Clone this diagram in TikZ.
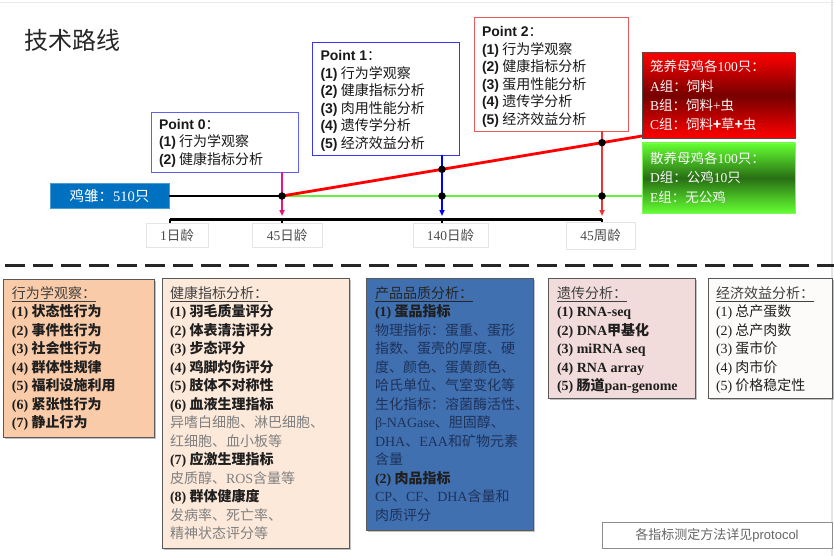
\documentclass[tikz,border=0pt]{standalone}
\usepackage{fontspec}
\setmainfont{Noto Sans CJK SC}
\newfontfamily\tms{Liberation Serif}
\newfontfamily\ars{Liberation Sans}
\usetikzlibrary{shadows,arrows.meta}
\newcommand\T[1]{{\tms #1}}
\newcommand\A[1]{{\ars #1}}
\newcommand\fsa{\rule{0pt}{14pt}}
\newcommand\fsb{\rule{0pt}{13.5pt}}
\definecolor{pzero}{RGB}{95,95,240}
\definecolor{pone}{RGB}{55,55,240}
\definecolor{ptwo}{RGB}{235,90,90}
\definecolor{azero}{RGB}{240,20,120}
\definecolor{aone}{RGB}{0,0,255}
\definecolor{atwo}{RGB}{240,50,50}
\definecolor{rline}{RGB}{255,0,0}
\definecolor{gline}{RGB}{100,240,60}
\definecolor{chick}{RGB}{0,112,192}
\definecolor{bone}{RGB}{250,203,168}
\definecolor{btwo}{RGB}{253,233,218}
\definecolor{bthree}{RGB}{64,112,176}
\definecolor{bfour}{RGB}{242,220,219}
\definecolor{bfive}{RGB}{253,251,249}
\definecolor{descb}{RGB}{30,50,90}
\definecolor{descg}{RGB}{128,128,128}
\definecolor{rtop}{RGB}{255,0,0}
\definecolor{rmid}{RGB}{118,0,0}
\definecolor{gtop}{RGB}{100,255,50}
\definecolor{gmid}{RGB}{40,110,20}
\begin{document}
\begin{tikzpicture}[x=1pt,y=-1pt,
  every node/.style={inner sep=0pt, outer sep=0pt},
  pbox/.style={draw, line width=0.9pt, fill=white, anchor=north west},
  ptext/.style={anchor=north west, align=left, font=\fontsize{14}{17.5}\selectfont, text=black!90},
  gtext/.style={anchor=north west, align=left, font=\fontsize{13.5}{19.3}\selectfont, text=white!95!gray},
  btext/.style={anchor=north west, align=left, font=\fontsize{14}{18.5}\selectfont, text=black!88},
  bbox/.style={draw=black!65, line width=0.9pt, anchor=north west,
    drop shadow={shadow xshift=1.5pt, shadow yshift=-1.5pt, opacity=0.35, fill=black!70}},
  lbl/.style={draw=black!10, fill=white, text=black!70, font=\fontsize{13.5}{15}\selectfont, minimum height=24},
  dot/.style={circle, fill=black, minimum size=7.5},
  arr/.style={line width=1.6pt, -{Triangle[length=6pt,width=5pt]}}
]
\useasboundingbox (0,0) rectangle (834,556);
% faint slide frame
\draw[black!8, line width=1pt] (0,3) -- (834,3);
\draw[black!10, line width=2pt] (832,0) -- (832,556);

% title
\node[anchor=west, font=\fontsize{24}{28}\selectfont, text=black!85] (title) at (24,40) {技术路线};

% Point boxes
\node[pbox, draw=pzero, minimum width=147, minimum height=60] (p0) at (151,112) {};
\node[ptext] (p0t) at (159,115.3) {\fsa\A{\textbf{Point 0}}：\\\A{\textbf{(1)}} 行为学观察\\\A{\textbf{(2)}} 健康指标分析};
\node[pbox, draw=pone, minimum width=147, minimum height=113] (p1) at (312,42) {};
\node[ptext] (p1t) at (320.5,47) {\fsa\A{\textbf{Point 1}}：\\\A{\textbf{(1)}} 行为学观察\\\A{\textbf{(2)}} 健康指标分析\\\A{\textbf{(3)}} 肉用性能分析\\\A{\textbf{(4)}} 遗传学分析\\\A{\textbf{(5)}} 经济效益分析};
\node[pbox, draw=ptwo, minimum width=154, minimum height=114] (p2) at (474,17) {};
\node[ptext] (p2t) at (482,23) {\fsa\A{\textbf{Point 2}}：\\\A{\textbf{(1)}} 行为学观察\\\A{\textbf{(2)}} 健康指标分析\\\A{\textbf{(3)}} 蛋用性能分析\\\A{\textbf{(4)}} 遗传学分析\\\A{\textbf{(5)}} 经济效益分析};

% cage and free-range boxes
\node[anchor=north west, draw=black!70, line width=0.8pt, minimum width=153, minimum height=85,
  top color=rtop, bottom color=rtop, middle color=rmid] (cage) at (642,53) {};
\node[gtext] (caget) at (650,58.3) {\fsb 笼养母鸡各\T{100}只：\\\T{A}组：饲料\\\T{B}组：饲料\T{+}虫\\\T{C}组：饲料\textbf{+}草\textbf{+}虫};
\node[anchor=north west, draw=gline!80!white, line width=0.6pt, minimum width=153, minimum height=70,
  top color=gtop, bottom color=gtop, middle color=gmid] (free) at (642,143) {};
\node[gtext] (freet) at (650,149.9) {\fsb 散养母鸡各\T{100}只：\\\T{D}组：公鸡\T{10}只\\\T{E}组：无公鸡};

% chicks
\node[fill=chick, draw=chick!70!white, line width=0.6pt, minimum width=119, minimum height=25,
  text=white, font=\fontsize{14.5}{16}\selectfont] (chk) at (109.5,196) {鸡雏：\T{510}只};

% coordinates
\coordinate (split) at (282,196);
\coordinate (redend) at (642,136);
\coordinate (greenend) at (642,196);
\coordinate (r1) at (442,169.33);
\coordinate (r2) at (602,142.67);
\coordinate (g1) at (442,196);
\coordinate (g2) at (602,196);
\coordinate (ts) at (170,219);
\coordinate (te) at (602,219);
\coordinate (t0) at (282,216);
\coordinate (t1) at (442,216);
\coordinate (t2) at (602,216);

% lines
\draw[line width=2.2pt, black] (chk.east) -- (split);
\draw[line width=2.8pt, gline] (split) -- (greenend);
\draw[line width=2.8pt, rline] (split) -- (redend);

% timeline
\draw[line width=3pt, black] (ts) -- (te);
\foreach \xx in {170,282,442,602} \draw[line width=1.5pt] (\xx,219) -- (\xx,223.5);

% arrows
\draw[arr, azero] (t0 |- p0.south) -- (t0);
\draw[arr, aone] (t1 |- p1.south) -- (t1);
\draw[arr, atwo] (t2 |- p2.south) -- (t2);

% dots
\node[dot] (d0) at (split) {};
\node[dot] (d1) at (r1) {};
\node[dot] (d2) at (g1) {};
\node[dot] (d3) at (r2) {};
\node[dot] (d4) at (g2) {};

% time labels
\node[lbl, minimum width=62] (l1) at (177,235) {\T{1}日龄};
\node[lbl, minimum width=70] (l2) at (287,235) {\T{45}日龄};
\node[lbl, minimum width=75] (l3) at (450.5,235) {\T{140}日龄};
\node[lbl, minimum width=69, minimum height=27] (l4) at (600.5,235.5) {\T{45}周龄};

% dashed separator
\draw[line width=3pt, black!85, dash pattern=on 20pt off 8pt] (5,265) -- (834,265);

% bottom boxes
\node[bbox, fill=bone, minimum width=151, minimum height=158] (b1) at (3,279) {};
\node[btext] (b1t) at (12,284.3) {\fsa{\color{black!75}\underline{行为学观察：}}\\
\textbf{\T{(1)} 状态性行为}\\
\textbf{\T{(2)} 事件性行为}\\
\textbf{\T{(3)} 社会性行为}\\
\textbf{\T{(4)} 群体性规律}\\
\textbf{\T{(5)} 福利设施利用}\\
\textbf{\T{(6)} 紧张性行为}\\
\textbf{\T{(7)} 静止行为}};

\node[bbox, fill=btwo, minimum width=187, minimum height=270] (b2) at (162,278) {};
\node[btext] (b2t) at (170,284.3) {\fsa{\color{black!75}\underline{健康指标分析：}}\\
\textbf{\T{(1)} 羽毛质量评分}\\
\textbf{\T{(2)} 体表清洁评分}\\
\textbf{\T{(3)} 步态评分}\\
\textbf{\T{(4)} 鸡脚灼伤评分}\\
\textbf{\T{(5)} 肢体不对称性}\\
\textbf{\T{(6)} 血液生理指标}\\
{\color{descg}异嗜白细胞、淋巴细胞、}\\
{\color{descg}红细胞、血小板等}\\
\textbf{\T{(7)} 应激生理指标}\\
{\color{descg}皮质醇、\T{ROS}含量等}\\
\textbf{\T{(8)} 群体健康度}\\
{\color{descg}发病率、死亡率、}\\
{\color{descg}精神状态评分等}};

\node[bbox, fill=bthree, minimum width=167, minimum height=252] (b3) at (366,278) {};
\node[btext] (b3t) at (375,284.3) {\fsa{\color{black!85}\underline{产品品质分析：}}\\
\textbf{\T{(1)} 蛋品指标}\\
{\color{descb}物理指标：蛋重、蛋形}\\
{\color{descb}指数、蛋壳的厚度、硬}\\
{\color{descb}度、颜色、蛋黄颜色、}\\
{\color{descb}哈氏单位、气室变化等}\\
{\color{descb}生化指标：溶菌酶活性、}\\
{\color{descb}\T{β-NAGase}、胆固醇、}\\
{\color{descb}\T{DHA}、\T{EAA}和矿物元素}\\
{\color{descb}含量}\\
\textbf{\T{(2)} 肉品指标}\\
{\color{descb}\T{CP}、\T{CF}、\T{DHA}含量和}\\
{\color{descb}肉质评分}};

\node[bbox, fill=bfour, minimum width=147, minimum height=120] (b4) at (548,278) {};
\node[btext] (b4t) at (557,284.3) {\fsa{\color{black!75}\underline{遗传分析：}}\\
\textbf{\T{(1) RNA-seq}}\\
\textbf{\T{(2) DNA}甲基化}\\
\textbf{\T{(3) miRNA seq}}\\
\textbf{\T{(4) RNA array}}\\
\textbf{\T{(5)} 肠道\T{pan-genome}}};

\node[bbox, fill=bfive, minimum width=124, minimum height=120] (b5) at (708,278) {};
\node[btext] (b5t) at (716,284.3) {\fsa{\color{black!75}\underline{经济效益分析：}}\\
\T{(1)} 总产蛋数\\
\T{(2)} 总产肉数\\
\T{(3)} 蛋市价\\
\T{(4)} 肉市价\\
\T{(5)} 价格稳定性};

% note
\node[draw=black!45, line width=0.7pt, fill=white, minimum width=230, minimum height=26,
  text=black!60, font=\fontsize{13}{15}\selectfont] (note) at (717,535) {各指标测定方法详见\A{protocol}};
\end{tikzpicture}
\end{document}
